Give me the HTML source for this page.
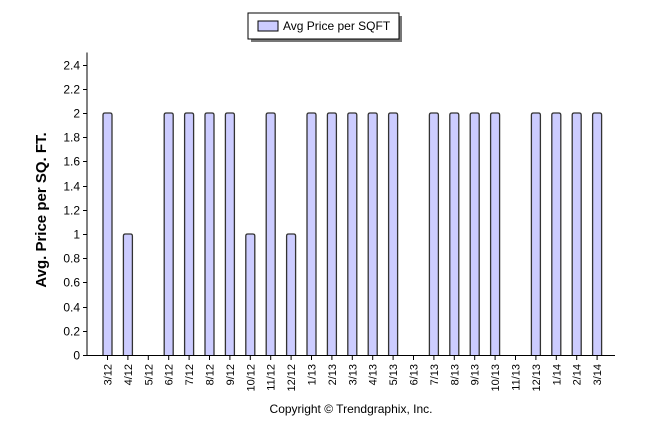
<!DOCTYPE html>
<html><head><meta charset="utf-8"><style>
body{margin:0;background:#fff;}
svg{display:block;font-family:"Liberation Sans",sans-serif;}
</style></head><body>
<svg width="646" height="434" viewBox="0 0 646 434">
<g>
<rect x="251" y="16" width="151" height="26" fill="#777"/>
<rect x="248" y="13" width="151" height="26" fill="#fff" stroke="#000" stroke-width="1"/>
<rect x="258" y="21" width="20" height="10" fill="#ccccff" stroke="#000"/>
<text x="283" y="30" font-size="12" fill="#000">Avg Price per SQFT</text>
</g>
<text transform="translate(46,210) rotate(-90)" text-anchor="middle" font-size="15" font-weight="bold" fill="#000">Avg. Price per SQ. FT.</text>
<text x="351" y="413" text-anchor="middle" font-size="12" fill="#000">Copyright © Trendgraphix, Inc.</text>
<g id="axes"></g>
<g id="bars"></g>
</svg>
<script>
const categories=["3/12","4/12","5/12","6/12","7/12","8/12","9/12","10/12","11/12","12/12","1/13","2/13","3/13","4/13","5/13","6/13","7/13","8/13","9/13","10/13","11/13","12/13","1/14","2/14","3/14"];
const values=[2,1,0,2,2,2,2,1,2,1,2,2,2,2,2,0,2,2,2,2,0,2,2,2,2];
const yTicks=[0,0.2,0.4,0.6,0.8,1,1.2,1.4,1.6,1.8,2,2.2,2.4];
const NS="http://www.w3.org/2000/svg";
const x0=87,x1=615,y0=355,ppu=121,step=20.4,first=107.5,bw=9;
const yS=v=>y0-v*ppu;
const xS=i=>first+i*step;
const axes=document.getElementById('axes'),bars=document.getElementById('bars');
function mk(t,a,p){const e=document.createElementNS(NS,t);for(const k in a)e.setAttribute(k,a[k]);p.appendChild(e);return e;}
let l=mk('line',{x1:x0,y1:yS(2.5),x2:x0,y2:y0,stroke:'#000'},axes);


l=mk('line',{x1:x0,y1:y0+0.5,x2:x1,y2:y0+0.5,stroke:'#000'},axes);


yTicks.forEach(v=>{
 const y=Math.round(yS(v))+0.5;
 mk('line',{x1:x0-4,y1:y,x2:x0,y2:y,stroke:'#000'},axes);
 const t=mk('text',{x:x0-7,y:y+4,'text-anchor':'end','font-size':'12',fill:'#000'},axes);
 t.textContent=String(v);
 
 
});
categories.forEach((c,i)=>{
 const cx=xS(i);
 mk('line',{x1:cx,y1:y0,x2:cx,y2:y0+5,stroke:'#000'},axes);
 const t=mk('text',{transform:`translate(${cx+4},${y0+9}) rotate(-90)`,'text-anchor':'end','font-size':'11',fill:'#000'},axes);
 t.textContent=c;
 
 
 const v=values[i];
 if(v>0){
  const top=yS(v);
  const r=mk('path',{d:`M${cx-bw/2},${y0} L${cx-bw/2},${top+2} Q${cx-bw/2},${top} ${cx-bw/2+2},${top} L${cx+bw/2-2},${top} Q${cx+bw/2},${top} ${cx+bw/2},${top+2} L${cx+bw/2},${y0}`,fill:'#ccccff',stroke:'#333','stroke-width':'1.3'},bars);
  
  
 }
});
</script>
</body></html>
